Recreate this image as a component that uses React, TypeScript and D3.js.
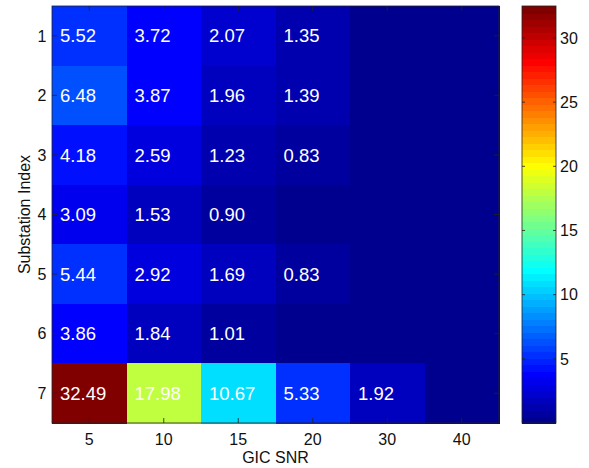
import React from "react";
import * as d3 from "d3";

// Substation × SNR grid; 0 means no value (cell left unlabeled)
const snrLabels = ["5", "10", "15", "20", "30", "40"];
const substations = ["1", "2", "3", "4", "5", "6", "7"];
const row1 = [5.52, 3.72, 2.07, 1.35, 0, 0];
const row2 = [6.48, 3.87, 1.96, 1.39, 0, 0];
const row3 = [4.18, 2.59, 1.23, 0.83, 0, 0];
const row4 = [3.09, 1.53, 0.9, 0, 0, 0];
const row5 = [5.44, 2.92, 1.69, 0.83, 0, 0];
const row6 = [3.86, 1.84, 1.01, 0, 0, 0];
const row7 = [32.49, 17.98, 10.67, 5.33, 1.92, 0];
const rows = [row1, row2, row3, row4, row5, row6, row7];
const colorTicks = [5, 10, 15, 20, 25, 30];

// MATLAB-style jet(64) colormap
function jetMap(m: number): string[] {
  const n = Math.ceil(m / 4);
  const u: number[] = [];
  for (let k = 1; k <= n; k++) u.push(k / n);
  for (let k = 1; k < n; k++) u.push(1);
  for (let k = n; k >= 1; k--) u.push(k / n);
  const gStart = Math.ceil(n / 2) - (m % 4 === 1 ? 1 : 0);
  const R = new Array(m).fill(0);
  const G = new Array(m).fill(0);
  const B = new Array(m).fill(0);
  u.forEach((v, j) => {
    const g = gStart + j + 1; // 1-based
    const r = g + n;
    const b = g - n;
    if (g >= 1 && g <= m) G[g - 1] = v;
    if (r >= 1 && r <= m) R[r - 1] = v;
    if (b >= 1 && b <= m) B[b - 1] = v;
  });
  return R.map((_, i) =>
    d3.rgb(Math.round(R[i] * 255), Math.round(G[i] * 255), Math.round(B[i] * 255)).formatHex()
  );
}

const JET = jetMap(64);

export default function App() {
  const W = 589;
  const H = 468;
  const plot = { left: 52, right: 499, top: 6, bottom: 423 };
  const cbar = { left: 522, right: 556 };

  const allVals = rows.flat();
  const cmin = d3.min(allVals) as number;
  const cmax = d3.max(allVals) as number;

  const x = d3.scaleBand<string>().domain(snrLabels).range([plot.left, plot.right]);
  const y = d3.scaleBand<string>().domain(substations).range([plot.top, plot.bottom]);
  const cy = d3.scaleLinear().domain([cmin, cmax]).range([plot.bottom, plot.top]);

  const colorOf = (v: number) => {
    let idx = Math.floor(((v - cmin) / (cmax - cmin)) * 64);
    idx = Math.max(0, Math.min(63, idx));
    return JET[idx];
  };

  const font = "'Liberation Sans', Arial, Helvetica, sans-serif";
  const tickLen = 5;

  return (
    <svg
      width={W}
      height={H}
      style={{ position: "absolute", left: 0, top: 0, background: "#fff" }}
      fontFamily={font}
    >
      {/* heatmap cells */}
      <g shapeRendering="crispEdges">
        {rows.map((r, i) =>
          r.map((v, j) => (
            <rect
              key={`c${i}-${j}`}
              x={x(snrLabels[j])}
              y={y(substations[i])}
              width={x.bandwidth() + 1}
              height={y.bandwidth() + 1}
              fill={colorOf(v)}
            />
          ))
        )}
      </g>
      {/* cell labels */}
      {rows.map((r, i) =>
        r.map((v, j) =>
          v > 0 ? (
            <text
              key={`t${i}-${j}`}
              x={(x(snrLabels[j]) as number) + 8}
              y={(y(substations[i]) as number) + y.bandwidth() / 2}
              dy="0.36em"
              fill="#fff"
              fontSize={18.5}
            >
              {v.toFixed(2)}
            </text>
          ) : null
        )
      )}
      {/* axes box */}
      <rect
        x={plot.left}
        y={plot.top}
        width={plot.right - plot.left}
        height={plot.bottom - plot.top}
        fill="none"
        stroke="#222"
        strokeWidth={0.8}
      />
      {/* x ticks */}
      {snrLabels.map((s) => {
        const cx = (x(s) as number) + x.bandwidth() / 2;
        return (
          <g key={`xt${s}`}>
            <line x1={cx} x2={cx} y1={plot.bottom} y2={plot.bottom - tickLen} stroke="#222" strokeWidth={0.8} />
            <line x1={cx} x2={cx} y1={plot.top} y2={plot.top + tickLen} stroke="#222" strokeWidth={0.8} />
            <text x={cx} y={445} textAnchor="middle" fontSize={16} fill="#111">
              {s}
            </text>
          </g>
        );
      })}
      {/* y ticks */}
      {substations.map((s) => {
        const cyy = (y(s) as number) + y.bandwidth() / 2;
        return (
          <g key={`yt${s}`}>
            <line x1={plot.left} x2={plot.left + tickLen} y1={cyy} y2={cyy} stroke="#222" strokeWidth={0.8} />
            <line x1={plot.right} x2={plot.right - tickLen} y1={cyy} y2={cyy} stroke="#222" strokeWidth={0.8} />
            <text x={46.5} y={cyy} dy="0.36em" textAnchor="end" fontSize={16} fill="#111">
              {s}
            </text>
          </g>
        );
      })}
      {/* axis titles */}
      <text x={(plot.left + plot.right) / 2} y={463} textAnchor="middle" fontSize={16} fill="#111">
        GIC SNR
      </text>
      <text
        transform={`translate(29.5, ${(plot.top + plot.bottom) / 2}) rotate(-90)`}
        textAnchor="middle"
        fontSize={16}
        fill="#111"
      >
        Substation Index
      </text>
      {/* colorbar */}
      <g shapeRendering="crispEdges">
        {JET.map((c, k) => {
          const v0 = cmin + ((cmax - cmin) * k) / 64;
          const v1 = cmin + ((cmax - cmin) * (k + 1)) / 64;
          return (
            <rect
              key={`cb${k}`}
              x={cbar.left}
              y={cy(v1)}
              width={cbar.right - cbar.left}
              height={cy(v0) - cy(v1) + 1}
              fill={c}
            />
          );
        })}
      </g>
      <rect
        x={cbar.left}
        y={plot.top}
        width={cbar.right - cbar.left}
        height={plot.bottom - plot.top}
        fill="none"
        stroke="#222"
        strokeWidth={0.8}
      />
      {colorTicks.map((t) => (
        <g key={`ct${t}`}>
          <line x1={cbar.left} x2={cbar.left + 3} y1={cy(t)} y2={cy(t)} stroke="#222" strokeWidth={0.8} />
          <line x1={cbar.right} x2={cbar.right - 3} y1={cy(t)} y2={cy(t)} stroke="#222" strokeWidth={0.8} />
          <text x={560} y={cy(t)} dy="0.36em" fontSize={16} fill="#111">
            {t}
          </text>
        </g>
      ))}
    </svg>
  );
}
